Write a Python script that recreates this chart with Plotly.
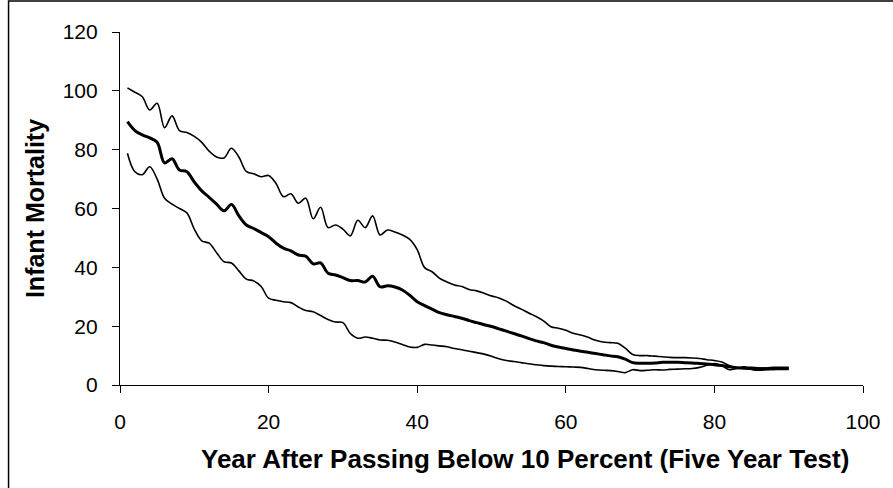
import plotly.graph_objects as go

years = list(range(1, 91))

upper = [101, 99.5, 98, 93.5, 95.8, 87.5, 91.5, 86.5, 85.8, 84.5,
         82.5, 79.5, 77.5, 77.2, 80.5, 77.5, 72.6, 71.8, 70.8, 71.2,
         68.5, 64, 65, 61.8, 63.5, 56.5, 60.4, 53.5, 54.4, 53,
         50.7, 56, 53.5, 57.5, 51, 52.7, 52, 51, 49.5, 46,
         39.9, 38.5, 36.3, 35, 34, 33.5, 32.5, 32, 31.2, 30.3,
         29.6, 28.5, 27, 25.8, 24.5, 23.3, 21.8, 19.8, 19.3, 18.6,
         17.6, 17, 16.2, 15.2, 14.6, 14.4, 14.2, 12.5, 10.4, 10,
         10, 9.8, 9.6, 9.4, 9.3, 9.3, 9.2, 9.0, 8.6, 8.3,
         7.8, 6.6, 5.8, 6.0, 6.0, 5.8, 5.8, 6.0, 6.0, 6.0]

middle = [89.5, 86.5, 85, 84, 82.5, 75.5, 76.9, 73.1, 72.5, 69,
          66, 63.8, 61.5, 59.2, 61.4, 57.5, 54.4, 53.2, 51.8, 50.4,
          48.2, 46.5, 45.6, 44.2, 43.8, 41.2, 41.5, 38, 37.4, 36.5,
          35.5, 35.5, 35, 37, 33.4, 33.7, 33.3, 32.3, 30.5, 28.3,
          27, 25.8, 24.6, 23.9, 23.3, 22.7, 21.9, 21.2, 20.5, 19.9,
          19.1, 18.3, 17.5, 16.7, 15.8, 15, 14.4, 13.5, 12.9, 12.4,
          11.9, 11.5, 11.1, 10.7, 10.3, 9.9, 9.6, 8.8, 7.6, 7.4,
          7.4, 7.5, 7.7, 7.7, 7.7, 7.6, 7.5, 7.3, 7.1, 6.9,
          6.6, 6.2, 5.9, 5.7, 5.6, 5.5, 5.5, 5.5, 5.5, 5.5]

lower = [78.8, 72.5, 71.5, 74.2, 70, 63.5, 61.5, 60, 58.5, 53,
         49, 48.2, 45, 41.9, 41.5, 38.8, 36, 35.4, 33.5, 29.5,
         28.8, 28.3, 28, 26.5, 25.3, 24.9, 23.6, 22.3, 21.4, 21.2,
         17.5, 15.9, 16.3, 15.9, 15.3, 15.2, 14.6, 13.8, 12.9, 12.8,
         13.8, 13.6, 13.3, 13, 12.4, 12, 11.5, 11, 10.5, 9.8,
         8.9, 8.3, 8, 7.6, 7.2, 6.9, 6.6, 6.4, 6.3, 6.2,
         6.1, 6, 5.6, 5.2, 5.0, 4.9, 4.6, 4.2, 5.2, 4.9,
         5.0, 5.2, 5.1, 5.3, 5.4, 5.5, 5.6, 6, 6.7, 7.3,
         6.6, 5.2, 5.6, 6.2, 5.3, 5.0, 5.2, 5.3, 5.4, 5.4]

FONT = "Liberation Sans, Arial, sans-serif"

fig = go.Figure()

# obere und untere Grenze dünn, Mittelwert dick
for ys, w in [(upper, 1.6), (lower, 1.6), (middle, 3)]:
    fig.add_trace(go.Scatter(
        x=years, y=ys,
        mode="lines",
        line=dict(color="black", width=w, shape="spline", smoothing=1.0),
        showlegend=False,
        hoverinfo="skip",
    ))

# Rahmen um das ganze Bild (links + oben sichtbar)
fig.add_shape(type="rect", xref="paper", yref="paper",
              x0=-0.150, y0=-0.5, x1=1.5, y1=1.088,
              line=dict(color="black", width=1.5), layer="above")

# x-Titel als Annotation, leicht nach rechts versetzt wie im Original
fig.add_annotation(
    text="<b>Year After Passing Below 10 Percent (Five Year Test)</b>",
    xref="paper", yref="paper", x=0.545, y=-0.21,
    xanchor="center", yanchor="middle", showarrow=False,
    font=dict(size=26, family=FONT, color="black"),
)

fig.update_layout(
    width=893, height=488,
    margin=dict(l=120, r=20, t=32, b=103),
    paper_bgcolor="white",
    plot_bgcolor="white",
    font=dict(family=FONT, color="black", size=21),
)

fig.update_xaxes(
    range=[0, 100], tickvals=[0, 20, 40, 60, 80, 100],
    showline=True, linecolor="black", linewidth=1.2,
    ticks="outside", ticklen=7, tickcolor="black", tickwidth=1.2,
    showgrid=False, zeroline=False,
    ticklabelstandoff=11,
    tickfont=dict(size=21),
)
fig.update_yaxes(
    range=[0, 120], tickvals=[0, 20, 40, 60, 80, 100, 120],
    showline=True, linecolor="black", linewidth=1.2,
    ticks="outside", ticklen=7, tickcolor="black", tickwidth=1.2,
    showgrid=False, zeroline=False,
    ticklabelstandoff=10,
    tickfont=dict(size=21),
    title=dict(text="<b>Infant Mortality</b>", font=dict(size=25), standoff=10),
)

fig.write_html("out.html", config={"displayModeBar": False},
               post_script="document.body.style.margin='0px';")
